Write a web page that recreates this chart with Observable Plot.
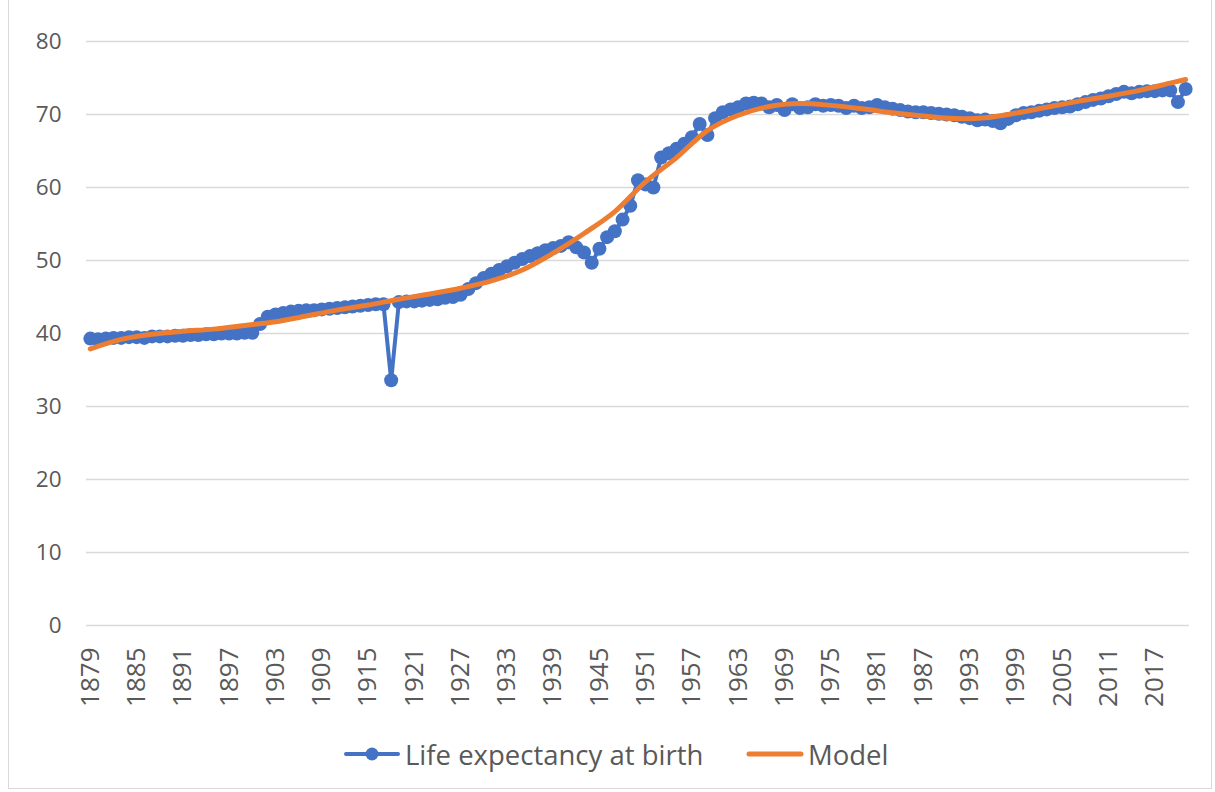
<!DOCTYPE html>
<html>
<head>
<meta charset="utf-8">
<script src="https://cdn.jsdelivr.net/npm/d3@7"></script>
<script src="https://cdn.jsdelivr.net/npm/@observablehq/plot@0.6"></script>
<style>
  html, body { margin: 0; padding: 0; background: #fff; }
  #wrap { position: relative; width: 1215px; height: 792px; overflow: hidden; font-family: "Open Sans", sans-serif; }
  #frame { position: absolute; left: 8px; top: -2px; width: 1204px; height: 791px; border: 1px solid #D9D9D9; box-sizing: border-box; }
  #chart { position: absolute; left: 0; top: 0; }
  .leg { position: absolute; top: 732px; height: 44px; display: flex; align-items: center; color: #595959; font-size: 27.5px; }
  .leg svg { display: block; margin-right: 4px; }
</style>
</head>
<body>
<div id="wrap">
  <div id="frame"></div>
  <div id="chart"></div>
  <div class="leg" style="left:343px">
    <svg width="58" height="20"><line x1="3" y1="10" x2="55" y2="10" stroke="#4472C4" stroke-width="4" stroke-linecap="round"/><circle cx="29" cy="10" r="6.5" fill="#4472C4"/></svg>
    <span>Life expectancy at birth</span>
  </div>
  <div class="leg" style="left:746px">
    <svg width="58" height="20"><line x1="3" y1="10" x2="55" y2="10" stroke="#ED7D31" stroke-width="5" stroke-linecap="round"/></svg>
    <span>Model</span>
  </div>
</div>
<script>
// First year of the annual series
const firstYear = 1879;

// Life expectancy at birth, one value per year 1879–2021
const lifeExpectancy = [
  39.3, 39.2, 39.3, 39.4, 39.4, 39.5, 39.5, 39.4, 39.6, 39.6, // 1879-1888
  39.6, 39.7, 39.7, 39.8, 39.8, 39.9, 39.9, 40.0, 40.0, 40.0, // 1889-1898
  40.1, 40.1, 41.3, 42.3, 42.6, 42.8, 43.0, 43.1, 43.2, 43.2, // 1899-1908
  43.3, 43.4, 43.5, 43.6, 43.7, 43.8, 43.9, 44.0, 44.0, 33.6, // 1909-1918
  44.3, 44.4, 44.4, 44.5, 44.6, 44.7, 44.9, 45.0, 45.3, 46.1, // 1919-1928
  46.9, 47.6, 48.2, 48.7, 49.2, 49.7, 50.2, 50.6, 51.0, 51.4, // 1929-1938
  51.7, 52.0, 52.5, 51.8, 51.1, 49.7, 51.6, 53.2, 54.0, 55.6, // 1939-1948
  57.5, 61.0, 60.4, 60.0, 64.1, 64.7, 65.3, 66.0, 66.9, 68.7, // 1949-1958
  67.2, 69.5, 70.3, 70.7, 71.0, 71.5, 71.6, 71.5, 71.0, 71.3, // 1959-1968
  70.6, 71.4, 70.9, 71.0, 71.4, 71.2, 71.3, 71.2, 70.9, 71.2, // 1969-1978
  70.9, 71.0, 71.3, 71.0, 70.8, 70.6, 70.4, 70.3, 70.3, 70.2, // 1979-1988
  70.1, 70.0, 69.9, 69.7, 69.5, 69.2, 69.3, 69.1, 68.8, 69.4, // 1989-1998
  69.9, 70.2, 70.3, 70.5, 70.7, 70.9, 71.0, 71.1, 71.4, 71.7, // 1999-2008
  72.0, 72.2, 72.5, 72.8, 73.1, 72.9, 73.1, 73.2, 73.2, 73.3, // 2009-2018
  73.3, 71.7, 73.5                                            // 2019-2021
];

// Model curve, read at sample years
const modelYears  = [1879, 1883, 1887, 1891, 1895, 1899, 1903, 1907, 1911, 1915, 1919, 1923, 1927, 1931, 1935, 1939, 1943, 1947, 1951, 1955, 1959, 1963, 1967, 1971, 1975, 1979, 1983, 1987, 1991, 1995, 1999, 2003, 2007, 2011, 2015, 2019, 2021];
const modelValues = [37.9, 39.2, 39.9, 40.3, 40.6, 41.1, 41.6, 42.4, 43.2, 43.9, 44.7, 45.4, 46.2, 47.2, 48.7, 51.0, 53.7, 56.7, 60.8, 64.1, 67.8, 69.9, 71.1, 71.5, 71.25, 70.8, 70.25, 69.8, 69.45, 69.55, 70.2, 71.0, 71.8, 72.5, 73.3, 74.3, 74.8];

// Axis ticks
const xTicks = [1879, 1885, 1891, 1897, 1903, 1909, 1915, 1921, 1927, 1933, 1939, 1945, 1951, 1957, 1963, 1969, 1975, 1981, 1987, 1993, 1999, 2005, 2011, 2017];
const yTicks = [0, 10, 20, 30, 40, 50, 60, 70, 80];

const observed = lifeExpectancy.map((v, i) => ({year: firstYear + i, value: v}));
const model = modelYears.map((y, i) => ({year: y, value: modelValues[i]}));

const blue = "#4472C4", orange = "#ED7D31", grid = "#D9D9D9", text = "#595959";

const chart = Plot.plot({
  width: 1215,
  height: 730,
  marginTop: 41,
  marginBottom: 105,
  marginLeft: 86,
  marginRight: 26,
  style: {fontFamily: "'Open Sans', sans-serif", color: text, background: "transparent", overflow: "visible"},
  x: {domain: [firstYear - 0.5, firstYear + lifeExpectancy.length - 0.5], label: null},
  y: {domain: [0, 80], label: null},
  marks: [
    Plot.gridY(yTicks, {stroke: grid, strokeOpacity: 1, strokeWidth: 1.4}),
    Plot.axisY(yTicks, {tickSize: 0, tickPadding: 25, fontSize: 22.5, fill: text, label: null}),
    Plot.axisX(xTicks, {tickSize: 0, tickPadding: 22, tickRotate: -90, fontSize: 26, fill: text, label: null, tickFormat: d => String(d)}),
    Plot.line(observed, {x: "year", y: "value", stroke: blue, strokeWidth: 4}),
    Plot.dot(observed, {x: "year", y: "value", r: 7, fill: blue, stroke: "none"}),
    Plot.line(model, {x: "year", y: "value", stroke: orange, strokeWidth: 5, curve: "catmull-rom"})
  ]
});
document.getElementById("chart").appendChild(chart);
</script>
</body>
</html>
